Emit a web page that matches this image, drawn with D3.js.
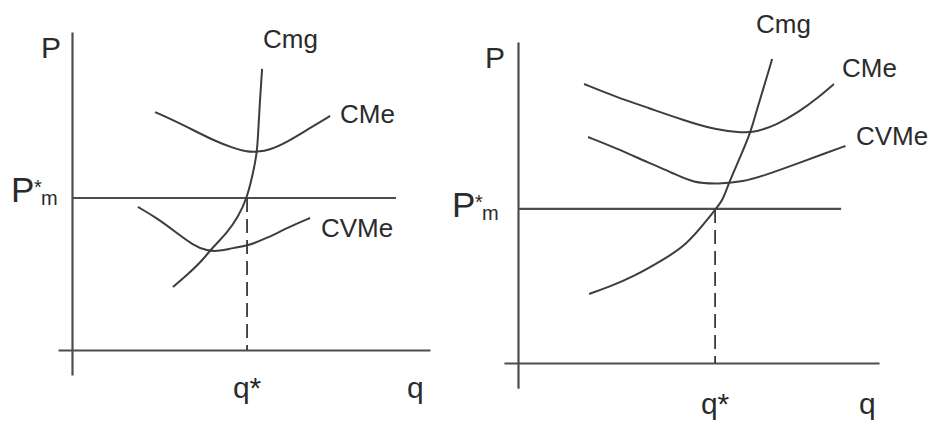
<!DOCTYPE html>
<html>
<head>
<meta charset="utf-8">
<script src="https://cdn.jsdelivr.net/npm/d3@7"></script>
<style>
  body { margin: 0; background: #fff; }
  svg { display: block; }
  text { font-family: "Liberation Sans", Arial, sans-serif; fill: #2b2b2b; }
</style>
</head>
<body>
<div id="chart"></div>
<script>
/* Two cost-curve diagrams (short run firm, P*m vs CMe / CVMe) */

// curve labels
const curveNames = ["Cmg", "CMe", "CVMe"];

// left diagram: [q, P] (0-100 units)
const leftCmg = [[53.1, 88.4], [52.5, 78.6], [52.0, 68.2], [51.7, 62.3], [50.6, 55.7], [48.9, 47.8],
    [46.4, 41.8], [43.3, 36.8], [39.4, 32.4], [35.8, 27.4], [32.1, 23.6], [28.2, 19.8]];
const leftCMe = [[23.2, 74.8], [28.2, 72.3], [33.8, 69.2], [39.4, 66.0], [45.0, 63.5], [48.9, 62.3],
    [51.7, 62.3], [55.3, 62.9], [60.1, 65.4], [65.6, 69.2], [72.1, 73.6]];
const leftCVMe = [[18.4, 45.0], [23.7, 41.5], [29.3, 36.8], [33.8, 33.0], [37.7, 31.1], [41.3, 31.1],
    [45.0, 32.1], [48.9, 32.7], [54.5, 35.2], [60.1, 38.4], [66.5, 41.5]];
const leftPrice = 47.8;
const leftQStar = 48.9;

// right diagram
const rightCmg = [[70.4, 94.7], [68.1, 86.0], [65.9, 77.9], [64.5, 72.0], [61.2, 63.2], [58.4, 56.1],
    [56.8, 50.8], [54.6, 47.7], [50.1, 41.4], [45.7, 36.1], [41.0, 32.7], [31.9, 26.8], [25.2, 23.7], [19.7, 21.5]];
const rightCMe = [[18.3, 86.9], [27.1, 82.9], [36.3, 79.4], [45.7, 75.7], [54.8, 72.6], [62.3, 71.7],
    [65.9, 72.0], [71.5, 74.1], [77.8, 78.2], [83.4, 82.9], [87.5, 86.9]];
const rightCVMe = [[19.4, 70.4], [27.1, 67.0], [36.3, 62.3], [42.9, 59.2], [48.5, 56.1], [55.7, 55.8],
    [62.3, 56.4], [68.7, 58.6], [77.8, 62.3], [85.3, 65.4], [90.7, 67.6]];
const rightPrice = 48.0;
const rightQStar = 54.6;

const width = 933, height = 421;

let svg = d3.select('#chart')
    .append('svg')
    .attr('width', width)
    .attr('height', height)
    .attr('viewBox', [0, 0, width, height]);

// layout of each diagram (pixels)
const panels = [
    {x0: 72, x1: 430, y0: 350, y1: 32, priceEnd: 90.5, curves: [leftCmg, leftCMe, leftCVMe],
     price: leftPrice, qStar: leftQStar,
     names: [[263, 48], [340, 123], [321, 237]],
     pLabel: [41, 58], pm: [11, 202], qBase: 398, qLabelX: 407},
    {x0: 518, x1: 879, y0: 363, y1: 42, priceEnd: 89.5, curves: [rightCmg, rightCMe, rightCVMe],
     price: rightPrice, qStar: rightQStar,
     names: [[756, 33], [842, 77], [856, 145]],
     pLabel: [485, 68], pm: [452, 217], qBase: 414, qLabelX: 859}
];

panels.forEach(p => {
    let x = d3.scaleLinear().domain([0, 100]).range([p.x0, p.x1]);
    let y = d3.scaleLinear().domain([0, 100]).range([p.y0, p.y1]);

    let g = svg.append('g');

    // axes run a little past the origin, like the hand drawing
    const xa = x.copy().domain([-3.9, 100]).range([x(-3.9), x(100)]);
    const ya = y.copy().domain([-7.9, 100]).range([y(-7.9), y(100)]);

    g.append('g')
        .attr('transform', `translate(0, ${y(0)})`)
        .call(d3.axisBottom(xa).tickValues([]).tickSizeOuter(0))
        .call(a => a.select('.domain').attr('stroke', '#4d4d4d').attr('stroke-width', 2.2));

    g.append('g')
        .attr('transform', `translate(${x(0)}, 0)`)
        .call(d3.axisLeft(ya).tickValues([]).tickSizeOuter(0))
        .call(a => a.select('.domain').attr('stroke', '#4d4d4d').attr('stroke-width', 2.2));

    // price line
    g.append('line')
        .attr('x1', x(0)).attr('x2', x(p.priceEnd))
        .attr('y1', y(p.price)).attr('y2', y(p.price))
        .attr('stroke', '#4d4d4d').attr('stroke-width', 2.2);

    // dashed q*
    g.append('line')
        .attr('x1', x(p.qStar)).attr('x2', x(p.qStar))
        .attr('y1', y(p.price)).attr('y2', y(0))
        .attr('stroke', '#3a3a3a').attr('stroke-width', 1.8)
        .attr('stroke-dasharray', '14,7');

    const line = d3.line()
        .x(d => x(d[0]))
        .y(d => y(d[1]))
        .curve(d3.curveBasis);

    g.selectAll('path.cost')
        .data(p.curves)
        .join('path')
        .attr('class', 'cost')
        .attr('d', line)
        .attr('fill', 'none')
        .attr('stroke', '#3d3d3d')
        .attr('stroke-width', 2);

    // curve names
    g.selectAll('text.name')
        .data(curveNames)
        .join('text')
        .attr('class', 'name')
        .attr('x', (d, i) => p.names[i][0])
        .attr('y', (d, i) => p.names[i][1])
        .attr('font-size', 26)
        .text(d => d);

    g.append('text')
        .attr('x', p.pLabel[0]).attr('y', p.pLabel[1])
        .attr('font-size', 30)
        .text('P');

    // P*m
    g.append('text')
        .attr('x', p.pm[0]).attr('y', p.pm[1])
        .attr('font-size', 35)
        .text('P');
    g.append('text')
        .attr('x', p.pm[0] + 23).attr('y', p.pm[1] - 8)
        .attr('font-size', 20)
        .text('*');
    g.append('text')
        .attr('x', p.pm[0] + 30).attr('y', p.pm[1] + 3)
        .attr('font-size', 20)
        .text('m');

    g.append('text')
        .attr('x', x(p.qStar)).attr('y', p.qBase)
        .attr('text-anchor', 'middle')
        .attr('font-size', 30)
        .text('q*');

    g.append('text')
        .attr('x', p.qLabelX).attr('y', p.qBase)
        .attr('font-size', 30)
        .text('q');
});
</script>
</body>
</html>
